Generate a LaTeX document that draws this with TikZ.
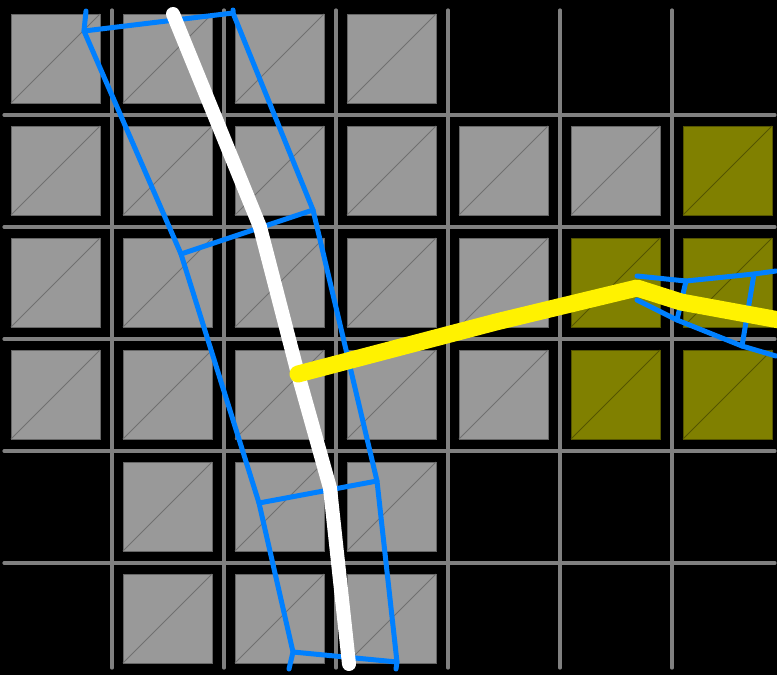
\documentclass[tikz,border=0pt]{standalone}
\definecolor{sqgray}{HTML}{999999}
\definecolor{sqedge}{HTML}{666666}
\definecolor{sqdiag}{HTML}{707070}
\definecolor{olivefill}{HTML}{808000}
\definecolor{olivediag}{HTML}{555500}
\definecolor{gridgray}{HTML}{808080}
\definecolor{laneblue}{HTML}{0080FF}
\tikzset{
  graysq/.style={fill=sqgray, draw=sqedge, line width=0.8},
  olivesq/.style={fill=olivefill, draw=olivediag, line width=0.8},
  graydiag/.style={draw=sqdiag, line width=0.8},
  olivediagln/.style={draw=olivediag, line width=0.8},
  gridline/.style={draw=gridgray, line width=3.2, line cap=round},
  blueln/.style={draw=laneblue, line width=5, line cap=round, line join=round},
  whiteln/.style={draw=white, line width=14, line cap=round, line join=round},
  yellowln/.style={draw=yellow, line width=17, line cap=round, line join=round}
}
\begin{document}
\begin{tikzpicture}[x=1pt,y=-1pt]
\fill[black] (0,0) rectangle (777,675);
\useasboundingbox (0,0) rectangle (777,675);
\clip (0,0) rectangle (777,675);
% gray squares
\foreach \c/\r in {0/0,1/0,2/0,3/0,
                   0/1,1/1,2/1,3/1,4/1,5/1,
                   0/2,1/2,2/2,3/2,4/2,
                   0/3,1/3,2/3,3/3,4/3,
                   1/4,2/4,3/4,
                   1/5,2/5,3/5}{
  \path[graysq] ({112*\c+11},{3+112*\r+11}) rectangle ({112*\c+100},{3+112*\r+100});
  \draw[graydiag] ({112*\c+11},{3+112*\r+100}) -- ({112*\c+100},{3+112*\r+11});
}
% olive squares
\foreach \c/\r in {6/1,5/2,6/2,5/3,6/3}{
  \path[olivesq] ({112*\c+11},{3+112*\r+11}) rectangle ({112*\c+100},{3+112*\r+100});
  \draw[olivediagln] ({112*\c+11},{3+112*\r+100}) -- ({112*\c+100},{3+112*\r+11});
}
% grid lines
\foreach \x in {112,224,336,448,560,672}{
  \draw[gridline] (\x,10) -- (\x,668);
}
\foreach \y in {115,227,339,451,563}{
  \draw[gridline] (4,\y) -- (775,\y);
}
% left lane structure
\coordinate (L0) at (86,11);
\coordinate (L1) at (84,31);
\coordinate (L2) at (181,254);
\coordinate (L3) at (259,503);
\coordinate (L4) at (293,652);
\coordinate (L5) at (289,669);
\coordinate (R0) at (233,10);
\coordinate (R1) at (233,13);
\coordinate (R2) at (313,210);
\coordinate (R3) at (377,481);
\coordinate (R4) at (397,662);
\coordinate (R5) at (396,669);
\draw[blueln] (L0) -- (L1) -- (L2) -- (L3) -- (L4) -- (L5);
\draw[blueln] (R0) -- (R1) -- (R2) -- (R3) -- (R4) -- (R5);
\draw[blueln] (L1) -- (R1);
\draw[blueln] (L2) -- (R2);
\draw[blueln] (L3) -- (R3);
\draw[blueln] (L4) -- (R4);
% right lane structure
\coordinate (A0) at (637,276);
\coordinate (A1) at (686,281);
\coordinate (A2) at (754,274);
\coordinate (A3) at (776,271);
\coordinate (B0) at (637,300);
\coordinate (B1) at (677,320);
\coordinate (B2) at (742,346);
\coordinate (B3) at (776,356);
\draw[blueln] (A0) -- (A1) -- (A2) -- (A3);
\draw[blueln] (B0) -- (B1) -- (B2) -- (B3);
\draw[blueln] (A1) -- (B1);
\draw[blueln] (A2) -- (B2);
% white path
\coordinate (W0) at (173,14);
\coordinate (W1) at (260,227);
\coordinate (W2) at (298,374);
\coordinate (W3) at (330,488);
\coordinate (W4) at (349,664);
\draw[whiteln] (W0) -- (W1) -- (W2) -- (W3) -- (W4);
% yellow path
\coordinate (Y1) at (496,322);
\coordinate (Y2) at (637,288);
\coordinate (Y3) at (681,302);
\coordinate (Y4) at (790,322);
\draw[yellowln] (W2) -- (Y1) -- (Y2) -- (Y3) -- (Y4);
\end{tikzpicture}
\end{document}
